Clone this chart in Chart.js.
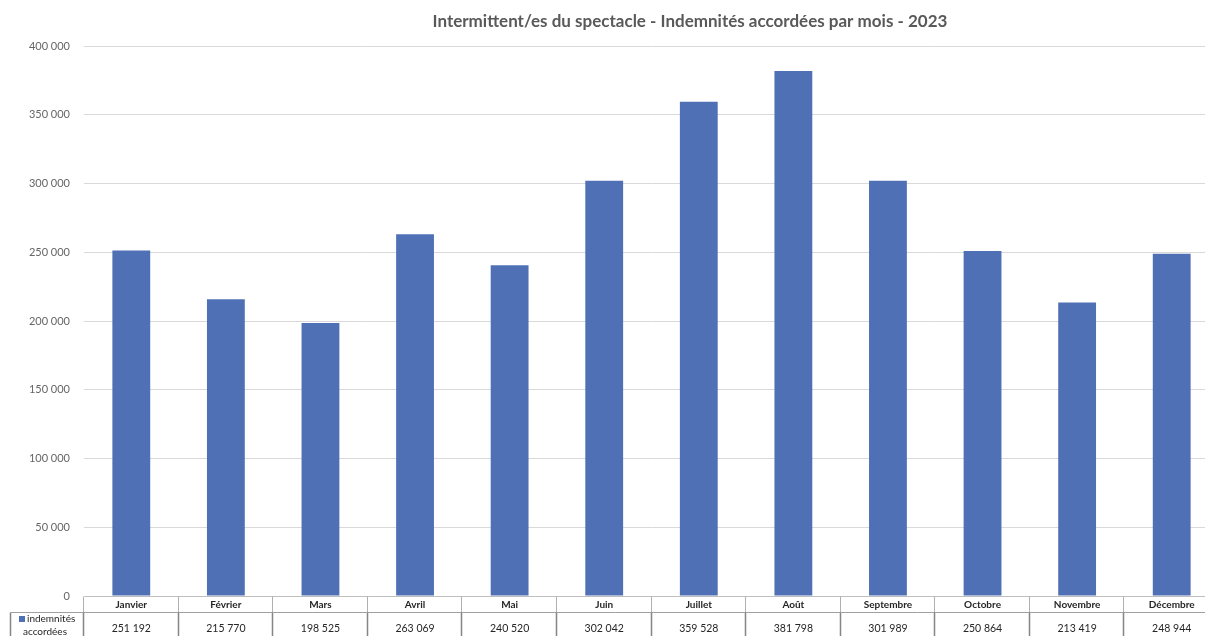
<!DOCTYPE html>
<html lang="fr">
<head>
<meta charset="utf-8">
<title>Intermittent/es du spectacle - Indemnités accordées par mois - 2023</title>
<script src="https://cdn.jsdelivr.net/npm/chart.js@4/dist/chart.umd.min.js"></script>
<style>
  html, body { margin: 0; padding: 0; background: #ffffff; overflow: hidden; }
  #wrap { position: relative; width: 1220px; height: 636px; }
</style>
</head>
<body>
<div id="wrap"><canvas id="chart"></canvas></div>
<script>
// Monthly data
const months = ['Janvier', 'Février', 'Mars', 'Avril', 'Mai', 'Juin', 'Juillet', 'Août', 'Septembre', 'Octobre', 'Novembre', 'Décembre'];
const indemnites = [251192, 215770, 198525, 263069, 240520, 302042, 359528, 381798, 301989, 250864, 213419, 248944];
const seriesName = ['indemnités', 'accordées'];
const titleText = 'Intermittent/es du spectacle - Indemnités accordées par mois - 2023';

const BAR_COLOR = '#5070b6';
const FONT = 'Lato, "Noto Sans", sans-serif';

const fmt = n => String(n).replace(/\B(?=(\d{3})+(?!\d))/g, ' ');

// Title plus data table drawn under the plot area
const tablePlugin = {
  id: 'dataTable',
  afterDraw(chart) {
    const ctx = chart.ctx;
    const area = chart.chartArea;
    const xs = chart.scales.x;
    const top = Math.round(area.bottom) + 0.5;
    const mid = top + 16;
    const bottom = 640;

    ctx.save();

    // title
    ctx.fillStyle = '#595959';
    ctx.font = 'bold 17px ' + FONT;
    ctx.textAlign = 'center';
    ctx.textBaseline = 'middle';
    ctx.fillText(titleText, 690, 22);

    // cell boundaries from the category scale
    const edges = [area.left];
    for (let i = 1; i < months.length; i++) {
      edges.push((xs.getPixelForValue(i - 1) + xs.getPixelForValue(i)) / 2);
    }
    edges.push(area.right);

    // horizontal rules
    ctx.strokeStyle = '#bfbfbf';
    ctx.lineWidth = 1;
    ctx.beginPath();
    ctx.moveTo(Math.round(area.left) + 0.5, top);
    ctx.lineTo(chart.width, top);
    ctx.stroke();
    ctx.strokeStyle = '#a0a0a0';
    ctx.beginPath();
    ctx.moveTo(10.5, mid);
    ctx.lineTo(chart.width, mid);
    ctx.stroke();

    // vertical rules: header row
    ctx.strokeStyle = '#b0b0b0';
    ctx.beginPath();
    edges.forEach(e => {
      const x = Math.round(e) - 0.5;
      ctx.moveTo(x, top);
      ctx.lineTo(x, mid);
    });
    ctx.stroke();

    // vertical rules: value row
    ctx.strokeStyle = '#858585';
    ctx.lineWidth = 1.5;
    ctx.beginPath();
    ctx.moveTo(10.5, mid);
    ctx.lineTo(10.5, bottom);
    edges.forEach(e => {
      const x = Math.round(e) - 0.5;
      ctx.moveTo(x, mid);
      ctx.lineTo(x, bottom);
    });
    ctx.stroke();

    // header labels and values
    ctx.fillStyle = '#262626';
    ctx.textAlign = 'center';
    ctx.textBaseline = 'middle';
    months.forEach((m, i) => {
      const cx = (edges[i] + edges[i + 1]) / 2;
      ctx.font = 'bold 10px ' + FONT;
      ctx.fillText(m, cx, top + 8.5);
      ctx.font = '10.5px ' + FONT;
      ctx.fillText(fmt(indemnites[i]), cx, mid + 16);
    });

    // series key
    ctx.fillStyle = BAR_COLOR;
    ctx.fillRect(19, 616, 6, 6);
    ctx.fillStyle = '#262626';
    ctx.font = '10px ' + FONT;
    ctx.textAlign = 'left';
    ctx.fillText(seriesName[0], 27, 619);
    ctx.textAlign = 'center';
    ctx.fillText(seriesName[1], 45, 632);

    ctx.restore();
  }
};

new Chart(document.getElementById('chart'), {
  type: 'bar',
  data: {
    labels: months,
    datasets: [{
      label: seriesName.join(' '),
      data: indemnites,
      backgroundColor: BAR_COLOR,
      borderWidth: 0,
      categoryPercentage: 1,
      barPercentage: 0.4
    }]
  },
  options: {
    responsive: true,
    maintainAspectRatio: false,
    animation: false,
    devicePixelRatio: 1,
    layout: { padding: { top: 46, bottom: 40, left: 0, right: 1 } },
    plugins: {
      legend: { display: false },
      title: { display: false },
      tooltip: { enabled: false }
    },
    scales: {
      x: {
        display: false,
        grid: { display: false }
      },
      y: {
        min: 0,
        max: 400000,
        afterFit(scale) { scale.width = 84; },
        border: { display: false },
        grid: { color: '#d9d9d9', lineWidth: 1, drawTicks: false },
        ticks: {
          stepSize: 50000,
          padding: 14,
          color: '#666666',
          font: { family: FONT, size: 11 },
          callback: v => fmt(v)
        }
      }
    }
  },
  plugins: [tablePlugin]
});
</script>
</body>
</html>
